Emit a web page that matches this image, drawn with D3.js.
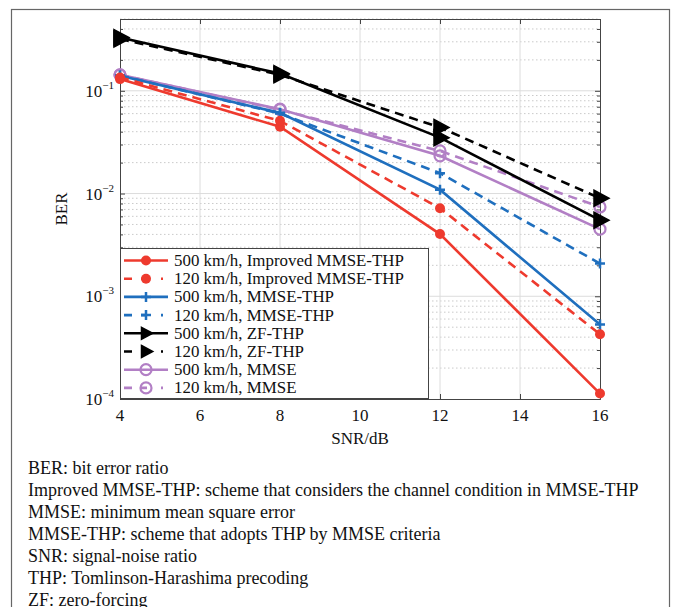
<!DOCTYPE html>
<html>
<head>
<meta charset="utf-8">
<script src="https://cdn.jsdelivr.net/npm/d3@7"></script>
<style>
  body { margin: 0; background: #fff; }
  svg { display: block; }
  text { font-family: "Liberation Serif", "DejaVu Serif", serif; fill: #111; }
</style>
</head>
<body>
<svg id="chart"></svg>
<script>
const W = 674, H = 607;
const snr = [4, 8, 12, 16];
const xTicks = [4, 6, 8, 10, 12, 14, 16];
const yDecades = [1e-4, 1e-3, 1e-2, 1e-1];
const yDecadeLabels = ["−4", "−3", "−2", "−1"];

const imp500 = [0.130, 0.0447, 0.00403, 0.000113];
const imp120 = [0.135, 0.051, 0.0072, 0.000427];
const mthp500 = [0.140, 0.061, 0.0109, 0.00053];
const mthp120 = [0.141, 0.060, 0.0158, 0.00208];
const zf500 = [0.330, 0.147, 0.035, 0.0055];
const zf120 = [0.320, 0.143, 0.044, 0.0090];
const mmse500 = [0.143, 0.0663, 0.0233, 0.0045];
const mmse120 = [0.143, 0.0655, 0.026, 0.0074];

const names = [
  "500 km/h, Improved MMSE-THP", "120 km/h, Improved MMSE-THP",
  "500 km/h, MMSE-THP", "120 km/h, MMSE-THP",
  "500 km/h, ZF-THP", "120 km/h, ZF-THP",
  "500 km/h, MMSE", "120 km/h, MMSE"
];
const notes = [
  "BER: bit error ratio",
  "Improved MMSE-THP: scheme that considers the channel condition in MMSE-THP",
  "MMSE: minimum mean square error",
  "MMSE-THP: scheme that adopts THP by MMSE criteria",
  "SNR: signal-noise ratio",
  "THP: Tomlinson-Harashima precoding",
  "ZF: zero-forcing"
];

const red = "#ee3a2e", blue = "#1f6fbe", black = "#000", purple = "#b27fc5";
const series = [
  {v: imp500, c: red, dash: null, m: "dot"},
  {v: imp120, c: red, dash: "9,6", m: "dot"},
  {v: mthp500, c: blue, dash: null, m: "plus"},
  {v: mthp120, c: blue, dash: "9,6", m: "plus"},
  {v: zf500, c: black, dash: null, m: "tri"},
  {v: zf120, c: black, dash: "9,6", m: "tri"},
  {v: mmse500, c: purple, dash: null, m: "ring"},
  {v: mmse120, c: purple, dash: "9,6", m: "ring"}
];
series.forEach((s, i) => s.name = names[i]);

const svg = d3.select("#chart").attr("width", W).attr("height", H);

// outer frame
svg.append("rect").attr("x", 11.5).attr("y", 9.5).attr("width", 658).attr("height", 620)
  .attr("fill", "none").attr("stroke", "#666").attr("stroke-width", 1.2);

const L = 120, R = 600, T = 19, B = 399;
const x = d3.scaleLinear().domain([4, 16]).range([L, R]);
const y = d3.scaleLog().domain([1e-4, 0.5]).range([B, T]);

const g = svg.append("g");

// minor grid
const minors = [];
[1e-4, 1e-3, 1e-2, 1e-1].forEach(d => {
  for (let k = 2; k <= 9; k++) { const v = d * k; if (v <= 0.5) minors.push(v); }
});
g.selectAll(".ymin").data(minors).enter().append("line")
  .attr("x1", L).attr("x2", R).attr("y1", d => y(d)).attr("y2", d => y(d))
  .attr("stroke", "#bdbdbd").attr("stroke-width", 0.8).attr("stroke-dasharray", "1.5,2.5");
g.selectAll(".ymaj").data(yDecades.slice(1)).enter().append("line")
  .attr("x1", L).attr("x2", R).attr("y1", d => y(d)).attr("y2", d => y(d))
  .attr("stroke", "#dcdcdc").attr("stroke-width", 1);
g.selectAll(".xg").data(xTicks.slice(1, -1)).enter().append("line")
  .attr("x1", d => x(d)).attr("x2", d => x(d)).attr("y1", T).attr("y2", B)
  .attr("stroke", "#dcdcdc").attr("stroke-width", 1);

// axes with inward ticks
const ax = (gen, tr) => g.append("g").attr("transform", tr).call(gen)
  .call(a => a.select(".domain").attr("stroke", "#444"))
  .call(a => a.selectAll(".tick line").attr("stroke", "#444"))
  .call(a => a.selectAll("text").remove());
ax(d3.axisBottom(x).tickValues(xTicks).tickSizeInner(-5).tickSizeOuter(0), `translate(0,${B})`);
ax(d3.axisTop(x).tickValues(xTicks).tickSizeInner(-5).tickSizeOuter(0), `translate(0,${T})`);
ax(d3.axisLeft(y).tickValues(yDecades).tickSizeInner(-5).tickSizeOuter(0), `translate(${L},0)`);
ax(d3.axisRight(y).tickValues(yDecades).tickSizeInner(-5).tickSizeOuter(0), `translate(${R},0)`);
ax(d3.axisLeft(y).tickValues(minors).tickSizeInner(-3).tickSizeOuter(0), `translate(${L},0)`);
ax(d3.axisRight(y).tickValues(minors).tickSizeInner(-3).tickSizeOuter(0), `translate(${R},0)`);

// tick labels
g.selectAll(".xl").data(xTicks).enter().append("text")
  .attr("x", d => x(d)).attr("y", B + 22).attr("text-anchor", "middle")
  .attr("font-size", 17).text(d => d);
const yl = g.selectAll(".yl").data(yDecades).enter().append("text")
  .attr("x", L - 6).attr("y", d => y(d) + 6).attr("text-anchor", "end").attr("font-size", 17);
yl.append("tspan").text("10");
yl.append("tspan").attr("dy", -8).attr("font-size", 11).text((d, i) => yDecadeLabels[i]);

svg.append("text").attr("x", (L + R) / 2).attr("y", B + 45).attr("text-anchor", "middle")
  .attr("font-size", 17).text("SNR/dB");
svg.append("text").attr("transform", `translate(67,${(T + B) / 2}) rotate(-90)`)
  .attr("text-anchor", "middle").attr("font-size", 17).text("BER");

// markers
function marker(sel, s, cx, cy, k = 1) {
  if (s.m === "dot") {
    sel.append("circle").attr("cx", cx).attr("cy", cy).attr("r", 5).attr("fill", s.c);
  } else if (s.m === "plus") {
    sel.append("path").attr("d", `M${cx - 5},${cy}H${cx + 5}M${cx},${cy - 5}V${cy + 5}`)
      .attr("stroke", s.c).attr("stroke-width", 2.5);
  } else if (s.m === "tri") {
    sel.append("path").attr("d", `M${cx - 6 * k},${cy - 8 * k}L${cx + 9 * k},${cy}L${cx - 6 * k},${cy + 8 * k}Z`)
      .attr("fill", s.c).attr("stroke", s.c).attr("stroke-width", 1.5);
  } else {
    sel.append("circle").attr("cx", cx).attr("cy", cy).attr("r", 5.5)
      .attr("fill", "none").attr("stroke", s.c).attr("stroke-width", 2.2);
  }
}

const line = d3.line().x((d, i) => x(snr[i])).y(d => y(d));
const order = [6, 7, 2, 3, 0, 1, 5, 4];
order.forEach(i => {
  const s = series[i];
  g.append("path").attr("d", line(s.v)).attr("fill", "none").attr("stroke", s.c)
    .attr("stroke-width", 2.6).attr("stroke-dasharray", s.dash);
  s.v.forEach((v, j) => marker(g, s, x(snr[j]), y(v)));
});

// legend
const lg = svg.append("g");
lg.append("rect").attr("x", 120.5).attr("y", 248.5).attr("width", 308).attr("height", 150)
  .attr("fill", "#fff").attr("stroke", "#444").attr("stroke-width", 1);
series.forEach((s, i) => {
  const ly = 260.5 + i * 18.2;
  lg.append("line").attr("x1", 124).attr("x2", 168).attr("y1", ly).attr("y2", ly)
    .attr("stroke", s.c).attr("stroke-width", 2.6).attr("stroke-dasharray", s.dash ? "8,9,6,14,2" : null);
  marker(lg, s, 146, ly, 0.75);
  lg.append("text").attr("x", 174).attr("y", ly + 5.5).attr("font-size", 16.9).text(s.name);
});

// notes
svg.selectAll(".note").data(notes).enter().append("text")
  .attr("x", 28).attr("y", (d, i) => 474 + i * 22).attr("font-size", 18).text(d => d);
</script>
</body>
</html>
